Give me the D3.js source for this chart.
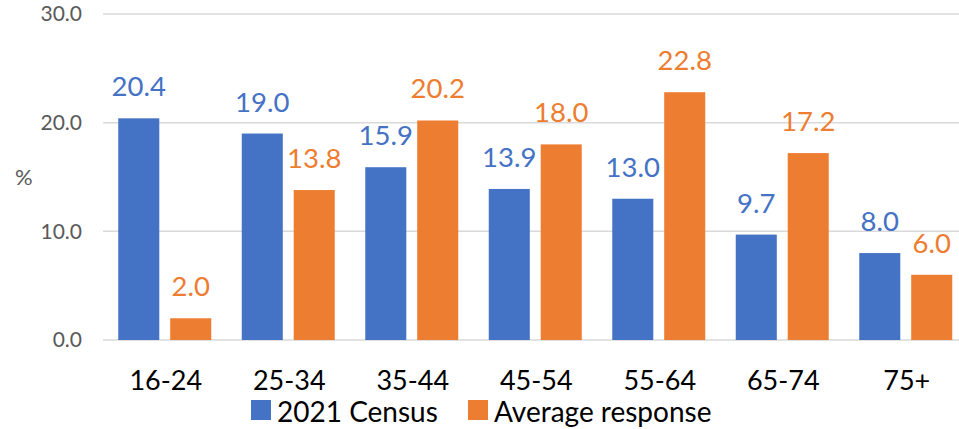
<!DOCTYPE html>
<html>
<head>
<meta charset="utf-8">
<script src="https://cdn.jsdelivr.net/npm/d3@7"></script>
<style>
  html, body { margin: 0; padding: 0; background: #fff; }
  svg { display: block; }
  text { font-family: Lato, "Open Sans", sans-serif; }
</style>
</head>
<body>
<svg id="chart" width="959" height="429"></svg>
<script>
const categories = ["16-24", "25-34", "35-44", "45-54", "55-64", "65-74", "75+"];
const census = [20.4, 19.0, 15.9, 13.9, 13.0, 9.7, 8.0];
const response = [2.0, 13.8, 20.2, 18.0, 22.8, 17.2, 6.0];
const seriesNames = ["2021 Census", "Average response"];
const yTicks = [0, 10, 20, 30];
const yLabel = "%";

const colors = ["#4472C4", "#ED7D31"];
const svg = d3.select("#chart");

const x = d3.scaleBand().domain(categories).range([103, 967.5])
  .paddingInner(0.247).paddingOuter(0.1235);
const xs = d3.scaleBand().domain([0, 1]).range([0, x.bandwidth()]).paddingInner(0.21);
const y = d3.scaleLinear().domain([0, 30]).range([340, 14]);

// gridlines
svg.append("g").selectAll("line").data(yTicks).join("line")
  .attr("x1", 103).attr("x2", 959)
  .attr("y1", d => y(d)).attr("y2", d => y(d))
  .attr("stroke", "#d9d9d9").attr("stroke-width", 1.5);

// y tick labels
svg.append("g").selectAll("text").data(yTicks).join("text")
  .attr("x", 82).attr("y", d => y(d)).attr("dy", "0.35em")
  .attr("text-anchor", "end").attr("fill", "#595959")
  .attr("font-size", 21)
  .text(d => d.toFixed(1));

svg.append("text").attr("x", 15).attr("y", 185)
  .attr("fill", "#595959").attr("font-size", 22).text(yLabel);

const data = [census, response];
data.forEach((vals, si) => {
  const g = svg.append("g");
  g.selectAll("rect").data(vals).join("rect")
    .attr("x", (d, i) => x(categories[i]) + xs(si))
    .attr("width", xs.bandwidth())
    .attr("y", d => y(d))
    .attr("height", d => y(0) - y(d))
    .attr("fill", colors[si]);
  g.selectAll("text").data(vals).join("text")
    .attr("x", (d, i) => x(categories[i]) + xs(si) + xs.bandwidth() / 2)
    .attr("y", d => y(d) - 22)
    .attr("text-anchor", "middle")
    .attr("fill", colors[si])
    .attr("font-size", 27.5)
    .text(d => d.toFixed(1));
});

// category labels
svg.append("g").selectAll("text").data(categories).join("text")
  .attr("x", d => x(d) + x.bandwidth() / 2 + 1)
  .attr("y", 390)
  .attr("text-anchor", "middle").attr("fill", "#000")
  .attr("font-size", 27)
  .text(d => d);

// legend
const legendX = [251, 468];
const lg = svg.append("g");
seriesNames.forEach((name, i) => {
  lg.append("rect").attr("x", legendX[i]).attr("y", 400)
    .attr("width", 20).attr("height", 20).attr("fill", colors[i]);
  lg.append("text").attr("x", legendX[i] + 26).attr("y", 422)
    .attr("fill", "#000").attr("font-size", 28).text(name);
});
</script>
</body>
</html>
